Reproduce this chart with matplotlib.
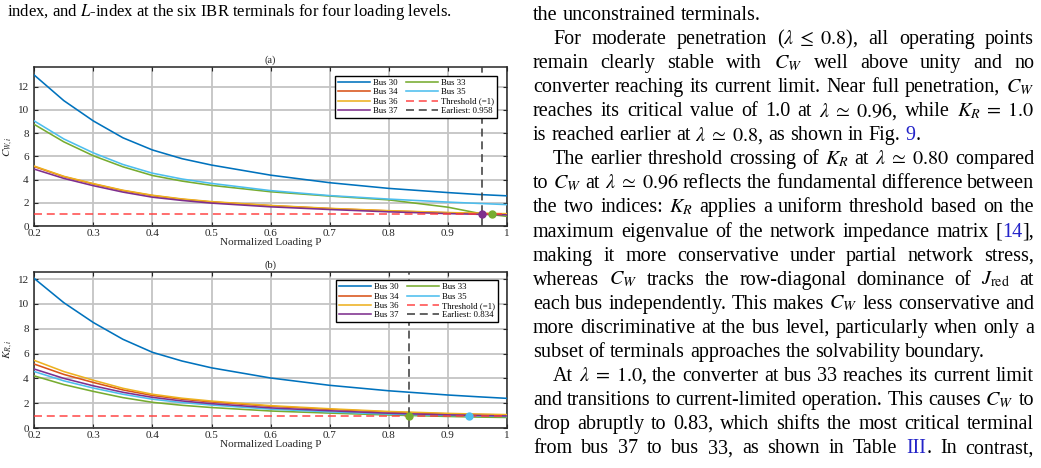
import re
import matplotlib
matplotlib.use('Agg')
import matplotlib.pyplot as plt

plt.rcParams['font.family'] = ['Liberation Serif', 'DejaVu Serif']
plt.rcParams['mathtext.fontset'] = 'stix'

# ---- data ----
load = [0.2, 0.25, 0.3, 0.35, 0.4, 0.45, 0.5, 0.6, 0.7, 0.8, 0.9, 0.95, 1.0]

buses = ['Bus 30', 'Bus 33', 'Bus 34', 'Bus 35', 'Bus 36', 'Bus 37']
colors = ['#0072BD', '#77AC30', '#D95319', '#4DBEEE', '#EDB120', '#7E2F8E']

# (a) C_W index
cw_30 = [13.0, 10.8, 9.05, 7.6, 6.55, 5.8, 5.25, 4.38, 3.73, 3.24, 2.88, 2.72, 2.6]
cw_33 = [8.75, 7.25, 6.05, 5.1, 4.35, 3.87, 3.5, 2.95, 2.58, 2.25, 1.62, 1.12, 0.83]
cw_34 = [5.12, 4.25, 3.62, 3.05, 2.62, 2.3, 2.07, 1.75, 1.5, 1.3, 1.14, 1.08, 1.03]
cw_35 = [9.05, 7.5, 6.3, 5.3, 4.55, 4.05, 3.67, 3.05, 2.62, 2.32, 2.06, 1.95, 1.84]
cw_36 = [5.16, 4.28, 3.65, 3.08, 2.65, 2.33, 2.1, 1.77, 1.52, 1.32, 1.16, 1.1, 1.06]
cw_37 = [4.9, 4.1, 3.47, 2.92, 2.48, 2.2, 1.97, 1.65, 1.42, 1.22, 1.07, 1.01, 0.96]

# (b) K_R index
kr_30 = [12.05, 10.1, 8.5, 7.15, 6.1, 5.4, 4.85, 4.03, 3.44, 3.0, 2.66, 2.52, 2.39]
kr_33 = [4.2, 3.5, 2.95, 2.45, 2.07, 1.83, 1.65, 1.37, 1.2, 1.05, 0.93, 0.88, 0.85]
kr_34 = [5.15, 4.32, 3.67, 3.07, 2.62, 2.32, 2.1, 1.75, 1.5, 1.29, 1.14, 1.09, 1.05]
kr_35 = [4.55, 3.8, 3.22, 2.72, 2.32, 2.05, 1.85, 1.52, 1.3, 1.12, 1.02, 0.98, 0.93]
kr_36 = [5.45, 4.55, 3.85, 3.2, 2.72, 2.4, 2.17, 1.8, 1.55, 1.33, 1.18, 1.12, 1.08]
kr_37 = [4.75, 4.0, 3.4, 2.88, 2.47, 2.18, 1.96, 1.62, 1.39, 1.19, 1.06, 1.01, 0.97]

# threshold crossings (bus index in `buses`, loading)
cross_a_bus = [5, 1]
cross_a_x = [0.958, 0.975]
cross_b_bus = [1, 3]
cross_b_x = [0.834, 0.935]
earliest_a = 0.958
earliest_b = 0.834

W, H = 1041, 468
fig = plt.figure(figsize=(W / 100, H / 100), dpi=100)
fig.patch.set_facecolor('white')


def fx(px):
    return px / W


def fy(py):
    return 1 - py / H


def panel(rect, series, cross_bus, cross_x, earliest, ylab, title, ytop, leg_anchor):
    ax = fig.add_axes(rect)
    lines = []
    for vals, c, name in zip(series, colors, buses):
        ln, = ax.plot(load, vals, color=c, lw=1.15, label=name, zorder=3)
        lines.append(ln)
    for b, x in zip(cross_bus, cross_x):
        ax.plot([x], [1.0], 'o', color=colors[b], ms=5, zorder=5)
    thr = ax.axhline(1.0, color='#FF3B3B', lw=1.15, ls=(0, (5, 3)), alpha=0.9,
                     label='Threshold (=1)', zorder=4)
    ear = ax.axvline(earliest, color='#404040', lw=1.15, ls=(0, (5, 3)),
                     label='Earliest: %.3f' % earliest, zorder=4)
    ax.set_xlim(0.2, 1.0)
    ax.set_ylim(0, ytop)
    ax.set_xticks([0.2, 0.3, 0.4, 0.5, 0.6, 0.7, 0.8, 0.9, 1.0])
    ax.set_xticklabels(['0.2', '0.3', '0.4', '0.5', '0.6', '0.7', '0.8', '0.9', '1'])
    ax.set_yticks([0, 2, 4, 6, 8, 10, 12])
    ax.grid(True, color='#c4c4c4', lw=1.3)
    ax.set_axisbelow(True)
    ax.tick_params(direction='in', top=True, right=True, length=3, width=0.8,
                   labelsize=8, colors='#262626', pad=2.5)
    ax.tick_params(axis='y', pad=4)
    for s in ax.spines.values():
        s.set_linewidth(1.1)
        s.set_color('#262626')
    ax.set_xlabel('Normalized Loading P', fontsize=8, labelpad=0, color='#262626')
    ax.set_ylabel(ylab, fontsize=8, labelpad=2, color='#262626')
    ax.set_title(title, fontsize=7.5, pad=3, color='#262626')
    order = [lines[0], lines[2], lines[4], lines[5], lines[1], lines[3], thr, ear]
    leg = ax.legend(handles=order, ncol=2, loc='upper right', bbox_to_anchor=leg_anchor,
                    borderaxespad=0, fontsize=6.3, handlelength=3.7, handletextpad=0.3,
                    columnspacing=1.0, labelspacing=0.12, borderpad=0.35,
                    fancybox=False, framealpha=1, edgecolor='black')
    leg.get_frame().set_linewidth(1.0)
    return ax


panel([fx(34.3), fy(226), fx(507 - 34.3), (226 - 67) / H],
      [cw_30, cw_33, cw_34, cw_35, cw_36, cw_37], cross_a_bus, cross_a_x, earliest_a,
      r'$C_{W,i}$', '(a)', 13.7, (0.979, 0.943))
panel([fx(34.3), fy(428), fx(507 - 34.3), (428 - 271.7) / H],
      [kr_30, kr_33, kr_34, kr_35, kr_36, kr_37], cross_b_bus, cross_b_x, earliest_b,
      r'$K_{R,i}$', '(b)', 12.6, (0.981, 0.945))

# ---- surrounding page text ----
caption = r'index, and $L$-index at the six IBR terminals for four loading levels.'
fig.text(fx(7), fy(16), caption, fontsize=12, va='baseline', ha='left')

# (text, indent, justify)
body = [
    ('the unconstrained terminals.', False, False),
    (r'For moderate penetration ($\lambda\;\leq\;0.8$), all operating points', True, True),
    (r'remain clearly stable with $C_W$ well above unity and no', False, True),
    (r'converter reaching its current limit. Near full penetration, $C_W$', False, True),
    (r'reaches its critical value of 1.0 at $\lambda\;\simeq\;0.96$, while $K_R\;=\;1.0$', False, True),
    (r'is reached earlier at $\lambda\;\simeq\;0.8$, as shown in Fig. #9#.', False, False),
    (r'The earlier threshold crossing of $K_R$ at $\lambda\;\simeq\;0.80$ compared', True, True),
    (r'to $C_W$ at $\lambda\;\simeq\;0.96$ reflects the fundamental difference between', False, True),
    (r'the two indices: $K_R$ applies a uniform threshold based on the', False, True),
    (r'maximum eigenvalue of the network impedance matrix [#14#],', False, True),
    (r'making it more conservative under partial network stress,', False, True),
    (r'whereas $C_W$ tracks the row-diagonal dominance of $J_{\mathrm{red}}$ at', False, True),
    (r'each bus independently. This makes $C_W$ less conservative and', False, True),
    (r'more discriminative at the bus level, particularly when only a', False, True),
    (r'subset of terminals approaches the solvability boundary.', False, False),
    (r'At $\lambda\;=\;1.0$, the converter at bus 33 reaches its current limit', True, True),
    (r'and transitions to current-limited operation. This causes $C_W$ to', False, True),
    (r'drop abruptly to 0.83, which shifts the most critical terminal', False, True),
    (r'from bus 37 to bus 33, as shown in Table #III#. In contrast,', False, True),
]

renderer = fig.canvas.get_renderer()
size = 14.5
x_left, x_right = 533, 1034
space = 0.25 * size * 100 / 72

for i, (line, indent, justify) in enumerate(body):
    base = 20 + 24.06 * i
    x0 = x_left + (20 if indent else 0)
    toks = re.findall(r'(?:\$[^$]*\$|[^\s$])+', line)
    words = []
    for tok in toks:
        parts = []
        for k, p in enumerate(tok.split('#')):
            if not p:
                continue
            t = fig.text(0, fy(base), p, fontsize=size, va='baseline', ha='left',
                         color='#2323c8' if k % 2 else 'black')
            parts.append((t, t.get_window_extent(renderer).width))
        words.append(parts)
    widths = [sum(w for _, w in parts) for parts in words]
    if justify and len(words) > 1:
        gap = (x_right - x0 - sum(widths)) / (len(words) - 1)
    else:
        gap = space
    x = x0
    for parts, w in zip(words, widths):
        xx = x
        for t, pw in parts:
            t.set_x(fx(xx))
            xx += pw
        x += w + gap

fig.savefig('out.png', dpi=100)
